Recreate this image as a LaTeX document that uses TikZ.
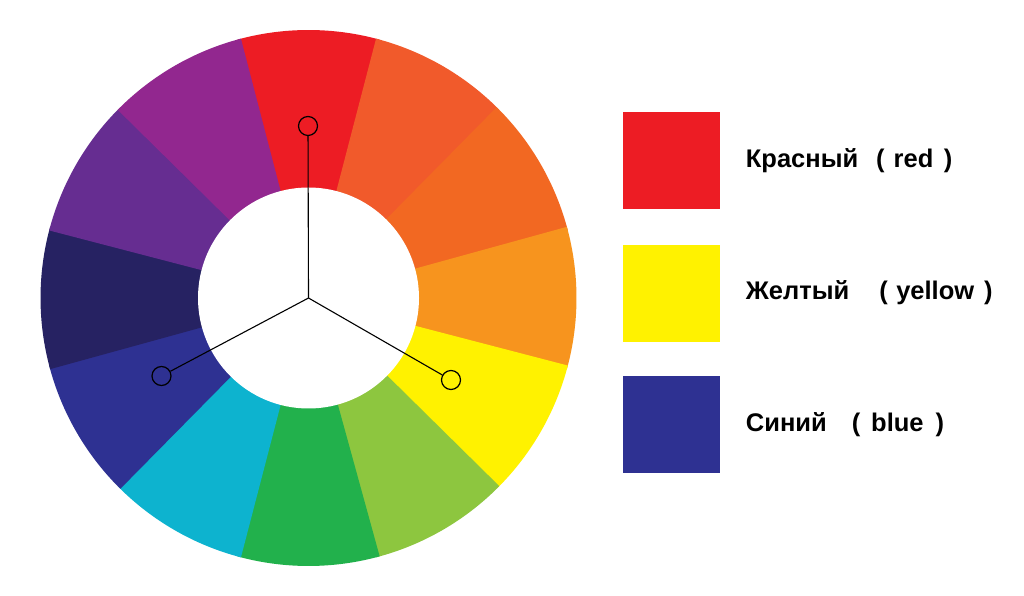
\documentclass[tikz,border=0pt]{standalone}
\usepackage{fontspec}
\setmainfont{Liberation Sans}
\usetikzlibrary{positioning}
% wheel colours
\definecolor{cw-red}{HTML}{ED1C24}
\definecolor{cw-redorange}{HTML}{F15A2B}
\definecolor{cw-orange}{HTML}{F26822}
\definecolor{cw-amber}{HTML}{F7941E}
\definecolor{cw-yellow}{HTML}{FFF200}
\definecolor{cw-lime}{HTML}{8DC63F}
\definecolor{cw-green}{HTML}{22B14C}
\definecolor{cw-cyan}{HTML}{0DB3CF}
\definecolor{cw-blue}{HTML}{2E3192}
\definecolor{cw-navy}{HTML}{262262}
\definecolor{cw-violet}{HTML}{662D91}
\definecolor{cw-purple}{HTML}{92278F}
\tikzset{
  %Wheel
  marker/.style={circle, draw=black, line width=1.2pt, minimum size=19pt, inner sep=0pt},
  spoke/.style={black, line width=1.1pt},
  %Legend
  swatch/.style={rectangle, fill=#1, minimum size=97pt, inner sep=0pt},
  swatch-label/.style={anchor=base west, inner sep=0pt, font=\fontsize{25.5}{30}\selectfont\bfseries}
}
\begin{document}
\begin{tikzpicture}[x=1pt, y=1pt]
    \fill[white] (0,0) rectangle (1024,596);
    \useasboundingbox (0,0) rectangle (1024,596);
    \coordinate (hub) at (308.5, 298);
    % Segments of the wheel
    \foreach \ang/\col in {90/cw-red, 60/cw-redorange, 30/cw-orange, 0/cw-amber,
        -30/cw-yellow, -60/cw-lime, -90/cw-green, -120/cw-cyan,
        -150/cw-blue, 180/cw-navy, 150/cw-violet, 120/cw-purple}
        \fill[\col] (hub) -- ++(\ang-15.4:268) arc[start angle=\ang-15.4, end angle=\ang+15.4, radius=268] -- cycle;
    % Hole in the middle
    \fill[white] (hub) circle[radius=110.5];
    % Triad markers
    \node[marker] (m-red) at (308, 470) {};
    \node[marker] (m-blue) at (161.5, 220) {};
    \node[marker] (m-yellow) at (451, 216) {};
    \draw[spoke] (hub) -- (m-red);
    \draw[spoke] (hub) -- (m-blue);
    \draw[spoke] (hub) -- (m-yellow);
    % --- Legend ---
    \node[swatch=cw-red] (sw-red) at (671, 435) {};
    \node[swatch=cw-yellow, below=35.3pt of sw-red] (sw-yellow) {};
    \node[swatch=cw-blue, below=33pt of sw-yellow] (sw-blue) {};
    \node[swatch-label] (lb-red) at ([xshift=26pt, yshift=-6.7pt]sw-red.east) {Красный\hspace{18pt}(\hspace{9pt}red\hspace{10.5pt})};
    \node[swatch-label] (lb-yellow) at ([xshift=26pt, yshift=-5.7pt]sw-yellow.east) {Желтый\hspace{30pt}(\hspace{8.5pt}yellow\hspace{10pt})};
    \node[swatch-label] (lb-blue) at ([xshift=26pt, yshift=-7.7pt]sw-blue.east) {Синий\hspace{25pt}(\hspace{11pt}blue\hspace{12pt})};
\end{tikzpicture}
\end{document}
